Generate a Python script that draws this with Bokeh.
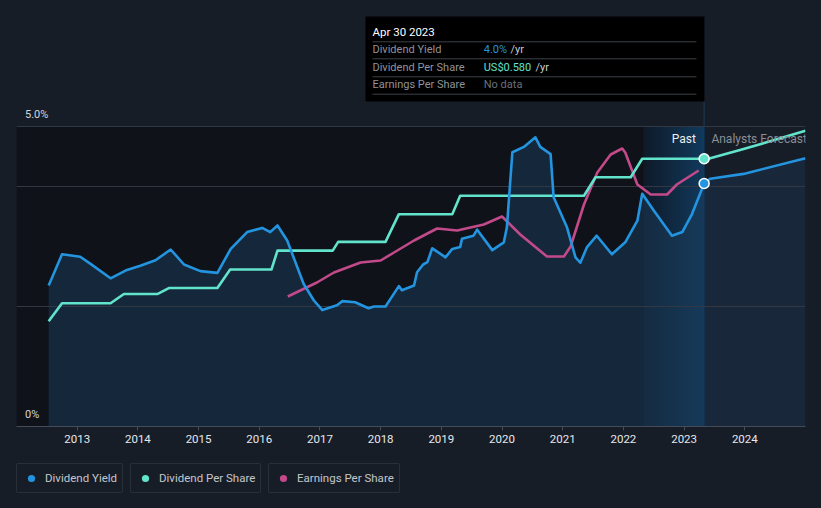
from bokeh.plotting import figure
from bokeh.layouts import column
from bokeh.models import Range1d, FixedTicker, Legend, LegendItem
from bokeh.core.properties import value
from bokeh.embed import file_html
from bokeh.resources import INLINE

# ---------------- data ----------------
yield_years = [2012.53, 2012.75, 2013.05, 2013.22, 2013.55, 2013.82, 2014.04, 2014.29, 2014.54,
               2014.76, 2015.03, 2015.31, 2015.53, 2015.80, 2016.05, 2016.18, 2016.30, 2016.46,
               2016.73, 2016.90, 2017.04, 2017.28, 2017.37, 2017.58, 2017.80, 2017.89, 2018.08,
               2018.30, 2018.35, 2018.55, 2018.60, 2018.70, 2018.77, 2018.85, 2019.07, 2019.18,
               2019.31, 2019.34, 2019.53, 2019.59, 2019.84, 2020.03, 2020.08, 2020.17, 2020.36,
               2020.55, 2020.63, 2020.80, 2020.85, 2021.07, 2021.21, 2021.29, 2021.40, 2021.56,
               2021.81, 2022.03, 2022.23, 2022.31, 2022.50, 2022.80, 2022.97, 2023.13, 2023.33]
yield_vals = [2.35, 2.87, 2.83, 2.71, 2.47, 2.61, 2.68, 2.77, 2.95,
              2.70, 2.59, 2.56, 2.96, 3.24, 3.31, 3.24, 3.35, 3.10,
              2.38, 2.10, 1.94, 2.02, 2.09, 2.07, 1.97, 2.00, 2.00,
              2.34, 2.27, 2.35, 2.57, 2.70, 2.74, 2.97, 2.82, 2.96,
              2.99, 3.13, 3.18, 3.28, 2.94, 3.07, 3.32, 4.57, 4.66,
              4.82, 4.66, 4.54, 3.82, 3.32, 2.82, 2.73, 2.99, 3.18,
              2.87, 3.07, 3.43, 3.88, 3.60, 3.18, 3.24, 3.54, 4.05]
yield_fc_years = [2023.33, 2023.43, 2023.98, 2025.0]
yield_fc_vals = [4.05, 4.13, 4.21, 4.47]

dps_years = [2012.53, 2012.75, 2013.55, 2013.77, 2014.32, 2014.51, 2015.31, 2015.52, 2016.20,
             2016.30, 2017.21, 2017.30, 2018.08, 2018.30, 2019.18, 2019.31, 2021.35, 2021.54,
             2022.12, 2022.31, 2023.33]
dps_vals = [0.228, 0.267, 0.267, 0.287, 0.287, 0.300, 0.300, 0.340, 0.340,
            0.381, 0.381, 0.400, 0.400, 0.460, 0.460, 0.500, 0.500, 0.540,
            0.540, 0.580, 0.580]
dps_fc_years = [2023.33, 2023.43, 2023.98, 2025.0]
dps_fc_vals = [0.580, 0.581, 0.601, 0.641]

eps_years = [2016.47, 2016.95, 2017.23, 2017.67, 2018.00, 2018.22, 2018.55, 2018.93, 2019.26,
             2019.70, 2020.00, 2020.30, 2020.74, 2021.02, 2021.13, 2021.35, 2021.57, 2021.79,
             2021.98, 2022.03, 2022.23, 2022.45, 2022.72, 2022.88, 2023.24]
eps_vals = [0.65, 0.72, 0.77, 0.82, 0.83, 0.87, 0.93, 0.99, 0.98,
            1.01, 1.05, 0.96, 0.85, 0.85, 0.90, 1.11, 1.27, 1.36,
            1.39, 1.37, 1.21, 1.16, 1.16, 1.21, 1.28]

x_ticks = [2013, 2014, 2015, 2016, 2017, 2018, 2019, 2020, 2021, 2022, 2023, 2024]
x_tick_labels = [str(t) for t in x_ticks]
y_label_vals = [5.0, 0.0]
y_label_texts = ["5.0%", "0%"]
grid_vals = [2, 4, 5]

now_year = 2023.33
highlight_start = 2022.33
tooltip_date = "Apr 30 2023"
tooltip_rows = ["Dividend Yield", "Dividend Per Share", "Earnings Per Share"]
tooltip_values = ["4.0%", "US$0.580", "No data"]
legend_labels = ["Dividend Yield", "Dividend Per Share", "Earnings Per Share"]

# ---------------- style ----------------
BG = "#171d27"
PAST_BG = "#0f1319"
BLUE = "#2394df"
TEAL = "#62e3cc"
MAGENTA = "#c2498a"
FONT = "Roboto"

W, H_MAIN, H_LEG = 821, 456, 52


# pixel helpers for decoration placement (page pixels -> data)
def px_x(px):
    return 2013 + (px - 76.7) / 60.7


def px_y(py):
    return (426 - py) / 60.0


PCT_TOP = 418 / 60.0
DPS_PER_PX = 0.58 / 267.7
EPS_PER_PX = 0.005

p = figure(width=W, height=H_MAIN, x_range=Range1d(2012.0, 2025.0), y_range=Range1d(0, PCT_TOP),
           output_backend="svg", toolbar_location=None,
           background_fill_color=BG, border_fill_color=BG, outline_line_color=None,
           min_border_left=16, min_border_right=16, min_border_top=8, min_border_bottom=H_MAIN - 426)
p.extra_y_ranges = {"dps": Range1d(0, 418 * DPS_PER_PX), "eps": Range1d(0, 418 * EPS_PER_PX)}

p.yaxis.visible = False
p.xgrid.visible = False
p.ygrid.ticker = FixedTicker(ticks=grid_vals)
p.ygrid.grid_line_color = "#323843"
p.ygrid.grid_line_width = 1

xa = p.xaxis[0]
xa.ticker = FixedTicker(ticks=x_ticks)
xa.major_label_overrides = {t: l for t, l in zip(x_ticks, x_tick_labels)}
xa.minor_tick_line_color = None
xa.major_tick_in = 0
xa.major_tick_out = 4
xa.axis_line_color = "#464c57"
xa.major_tick_line_color = "#464c57"
xa.major_label_text_color = "#e6e8ec"
xa.major_label_text_font = FONT
xa.major_label_text_font_size = "11.5px"
xa.major_label_standoff = 4

# background regions
p.quad(left=[2012.0], right=[now_year], bottom=[0], top=[5], fill_color=PAST_BG, line_color=None,
       level="image")
n_strips = 30
w = (now_year - highlight_start) / n_strips
for i in range(n_strips):
    t = (i + 1) / n_strips
    r = int(0x0f + (0x12 - 0x0f) * t)
    g = int(0x1a + (0x3a - 0x1a) * t)
    b = int(0x28 + (0x5c - 0x28) * t)
    p.quad(left=[highlight_start + i * w], right=[now_year], bottom=[0], top=[5],
           fill_color="#%02x%02x%02x" % (r, g, b), line_color=None, level="image")

# area under dividend yield
p.varea(x=yield_years, y1=[0] * len(yield_years), y2=yield_vals, fill_color="#1c3a58",
        fill_alpha=0.55, level="image")
p.varea(x=yield_fc_years, y1=[0] * len(yield_fc_years), y2=yield_fc_vals, fill_color="#1c3a58",
        fill_alpha=0.4, level="image")

# now marker line
p.segment(x0=[now_year], y0=[5], x1=[now_year], y1=[px_y(101)], line_color="#1d3149", line_width=1.5)

# series
p.line(eps_years, eps_vals, y_range_name="eps", line_color=MAGENTA, line_width=2.6, line_join="round")
p.line(dps_years, dps_vals, y_range_name="dps", line_color=TEAL, line_width=2.6, line_join="round")
p.line(dps_fc_years, dps_fc_vals, y_range_name="dps", line_color=TEAL, line_width=2.6, line_join="round")
p.line(yield_years, yield_vals, line_color=BLUE, line_width=2.6, line_join="round")
p.line(yield_fc_years, yield_fc_vals, line_color=BLUE, line_width=2.6, line_join="round")

p.scatter([dps_years[-1]], [dps_vals[-1]], y_range_name="dps", size=10,
          fill_color=TEAL, line_color="white", line_width=1.5)
p.scatter([yield_years[-1]], [yield_vals[-1]], size=10, fill_color=BLUE, line_color="white",
          line_width=1.5)

# y labels
p.text(x=[px_x(24.5)] * 2, y=[v + 12 / 60.0 for v in y_label_vals], text=y_label_texts,
       text_font=value(FONT), text_font_size="11px", text_color="#d4d7dc", text_baseline="middle")

# Past / forecast labels
p.text(x=[px_x(695.5)], y=[px_y(138)], text=["Past"], text_font=value(FONT), text_font_size="12px",
       text_color="#eceef1", text_baseline="middle", text_align="right")
p.text(x=[px_x(711)], y=[px_y(138)], text=["Analysts Forecasts"], text_font=value(FONT),
       text_font_size="12px", text_color="#8a8f97", text_baseline="middle")

# tooltip
p.quad(left=[px_x(365)], right=[px_x(704)], top=[px_y(16)], bottom=[px_y(101)], fill_color="black",
       line_color=None)
for sy in [41.3, 58.3, 76.3, 93.7]:
    p.segment(x0=[px_x(372)], x1=[px_x(696)], y0=[px_y(sy)], y1=[px_y(sy)], line_color="#3b4048",
              line_width=1)
p.text(x=[px_x(372)], y=[px_y(31)], text=[tooltip_date], text_font=value(FONT), text_font_size="11.5px",
       text_color="#ffffff", text_baseline="middle")
row_y = [49.3, 66.7, 84.3]
p.text(x=[px_x(372)] * 3, y=[px_y(v) for v in row_y], text=tooltip_rows, text_font=value(FONT),
       text_font_size="11px", text_color="#8f939a", text_baseline="middle")
p.text(x=[px_x(483.3)] * 3, y=[px_y(v) for v in row_y], text=tooltip_values, text_font=value(FONT),
       text_font_size="11px", text_color=[BLUE, TEAL, "#6b7078"], text_baseline="middle")
p.text(x=[px_x(510), px_x(535)], y=[px_y(row_y[0]), px_y(row_y[1])], text=["/yr", "/yr"],
       text_font=value(FONT), text_font_size="11px", text_color="#c9ccd1", text_baseline="middle")

# ---------------- legend strip ----------------
lf = figure(width=W, height=H_LEG, x_range=Range1d(0, W), y_range=Range1d(0, H_LEG),
            output_backend="svg", toolbar_location=None,
            background_fill_color=BG, border_fill_color=BG, outline_line_color=None,
            min_border=0, min_border_left=0, min_border_right=0, min_border_top=0, min_border_bottom=0)
lf.axis.visible = False
lf.grid.visible = False

legend_colors = [BLUE, TEAL, MAGENTA]
legend_left_px = [16, 130, 268]
for lab, col, lx in zip(legend_labels, legend_colors, legend_left_px):
    r = lf.scatter(x=[-100], y=[-100], size=9, fill_color=col, line_color=None, marker="circle")
    leg = Legend(items=[LegendItem(label=lab, renderers=[r])], location=(lx - 16, 15),
                 orientation="horizontal", padding=5, margin=0, spacing=0,
                 glyph_width=18, glyph_height=18, label_height=13, label_standoff=5,
                 label_text_font=FONT, label_text_font_size="11.5px", label_text_color="#c3c7cd",
                 border_line_color="#3a414c", border_line_width=1, border_radius=2,
                 background_fill_color=BG, background_fill_alpha=1)
    lf.add_layout(leg)

layout = column(p, lf, spacing=0)
html = file_html(layout, INLINE)
html = html.replace("</head>", "<style>html, body { background-color: %s; margin: 0; }</style></head>" % BG, 1)
open("out.html", "w").write(html)
